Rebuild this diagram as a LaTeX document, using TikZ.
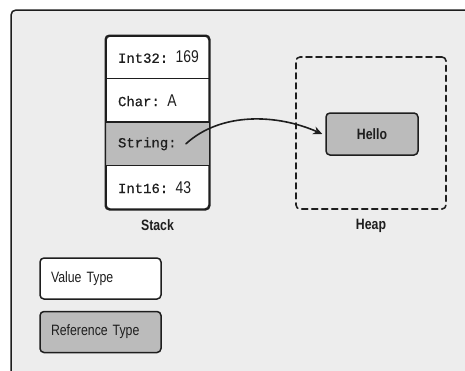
\documentclass[tikz,border=0pt]{standalone}
\usepackage{fontspec}
\setmainfont{Liberation Sans}[FakeStretch=0.82]
\setmonofont{Liberation Mono}[Scale=0.93,FakeBold=0.6]
\usetikzlibrary{positioning,arrows.meta}
\definecolor{panel}{HTML}{EDEDED}
\definecolor{refgray}{HTML}{BBBBBB}
\definecolor{ink}{HTML}{1E1E1E}
\newcommand{\val}[1]{{\fontsize{17}{18}\selectfont #1}}
\begin{document}
\begin{tikzpicture}[x=1pt, y=-1pt, >={Stealth[length=9pt,width=8pt]}, line join=round, line cap=round,
  font=\fontsize{15}{18}\selectfont, text=ink,
  box/.style={draw=ink, line width=1.5pt, rounded corners=4pt},
  cell/.style={minimum width=103pt, minimum height=43pt, text width=91pt, align=left, inner sep=0pt,
    execute at begin node={\leftskip=6pt}},
  legend/.style={box, minimum width=121pt, minimum height=41pt, text width=99pt, align=left, inner sep=0pt}]
\useasboundingbox (0,0) rectangle (465,370);
% panel, cut off at the right and at the bottom
\begin{scope}
\clip (0,0) rectangle (465,370);
\draw[fill=panel, draw=ink, line width=1.5pt, rounded corners=5pt] (11,10) rectangle (490,400);
\end{scope}
% stack
\node[box, fill=white, minimum width=103pt, minimum height=173pt, inner sep=0pt] (stack) at (157.5,122.5) {};
\node[cell, below=0pt of stack.north] (int32) {\texttt{Int32:} \val{169}};
\node[cell, below=0pt of int32] (char) {\texttt{Char:} \val{A}};
\node[cell, below=0pt of char, fill=refgray] (str) {\texttt{String:}};
\node[cell, below=0pt of str] (int16) {\texttt{Int16:} \val{43}};
\draw[box] (stack.north west) rectangle (stack.south east);
\foreach \r in {int32,char,str}
  \draw[ink, line width=1.5pt] (\r.south west) -- (\r.south east);
\node[font=\fontsize{15}{18}\selectfont\bfseries, below=6pt of stack] (stacklbl) {Stack};
% heap
\node[box, dashed, dash pattern=on 6pt off 4pt, line width=1.6pt, minimum width=150pt, minimum height=152pt] (heap) at (371,133) {};
\node[box, fill=refgray, minimum width=92pt, minimum height=42pt, font=\fontsize{15}{18}\selectfont\bfseries] (hello) at (372,134) {Hello};
\node[font=\fontsize{15}{18}\selectfont\bfseries, below=6pt of heap] (heaplbl) {Heap};
% reference from the stack into the heap
\coordinate (ptr) at ([xshift=28.5pt]str.center);
\draw[->, line width=1.6pt, ink] (ptr) .. controls +(35,-32) and +(-45,-20) .. ([xshift=-3pt]hello.west);
% legend
\node[legend, fill=white] (valtype) at (100.5,278.5) {Value Type};
\node[legend, fill=refgray, below=11pt of valtype] (reftype) {Reference Type};
\end{tikzpicture}
\end{document}
